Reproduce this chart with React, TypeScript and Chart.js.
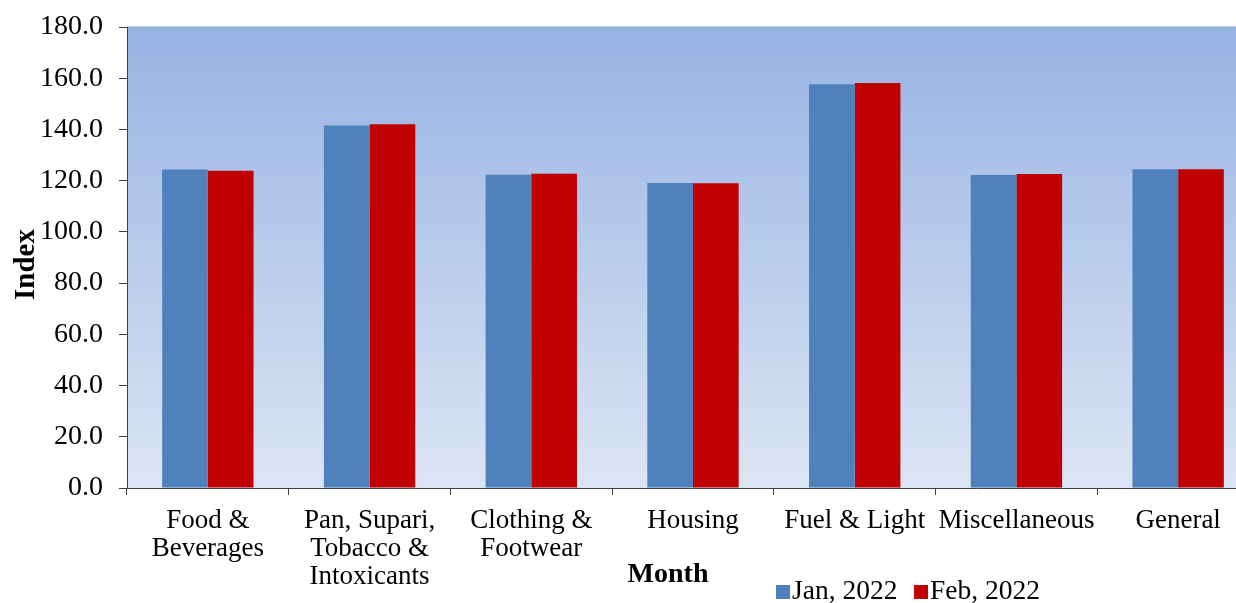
import React, { useEffect, useRef } from "react";
import { Chart, registerables } from "chart.js";

Chart.register(...registerables);

const categories: string[][] = [
  ["Food &", "Beverages"],
  ["Pan, Supari,", "Tobacco &", "Intoxicants"],
  ["Clothing &", "Footwear"],
  ["Housing"],
  ["Fuel & Light"],
  ["Miscellaneous"],
  ["General"],
];
const seriesNames = ["Jan, 2022", "Feb, 2022"];
const janValues = [124.4, 141.5, 122.3, 119.1, 157.6, 122.2, 124.5];
const febValues = [123.9, 142.0, 122.7, 119.0, 158.1, 122.6, 124.5];
const yTitle = "Index";
const xTitle = "Month";

const BLUE = "#4F81BD";
const RED = "#C00000";
const FONT = "'Liberation Serif', 'Times New Roman', serif";

const decorPlugin = {
  id: "decor",
  beforeDraw(chart: any) {
    const { ctx, chartArea } = chart;
    const { left, top, right, bottom } = chartArea;
    ctx.save();
    const g = ctx.createLinearGradient(0, top, 0, bottom);
    g.addColorStop(0, "#97B3E3");
    g.addColorStop(1, "#DCE5F4");
    ctx.fillStyle = g;
    ctx.fillRect(left, top, right - left, bottom - top);
    ctx.strokeStyle = "#C8D0DC";
    ctx.lineWidth = 1;
    ctx.beginPath();
    ctx.moveTo(left, top - 0.5);
    ctx.lineTo(right, top - 0.5);
    ctx.stroke();
    ctx.restore();
  },
  afterDraw(chart: any) {
    const { ctx, chartArea } = chart;
    ctx.save();
    ctx.fillStyle = "#000";
    ctx.font = `bold 29px ${FONT}`;
    ctx.textAlign = "center";
    ctx.textBaseline = "middle";
    ctx.save();
    ctx.translate(chartArea.left - 100, (chartArea.top + chartArea.bottom) / 2 + 7);
    ctx.rotate(-Math.PI / 2);
    ctx.fillText(yTitle, 0, 0);
    ctx.restore();
    ctx.font = `bold 28px ${FONT}`;
    ctx.fillText(xTitle, 668, 575);
    const colors = [BLUE, RED];
    const starts = [776, 914];
    ctx.font = `27.5px ${FONT}`;
    ctx.textAlign = "left";
    ctx.textBaseline = "middle";
    seriesNames.forEach((name, i) => {
      ctx.fillStyle = colors[i];
      ctx.fillRect(starts[i], 585, 14, 14);
      ctx.fillStyle = "#000";
      ctx.fillText(name, starts[i] + 16, 592);
    });
    ctx.restore();
  },
};

export default function App() {
  const ref = useRef<HTMLCanvasElement>(null);
  useEffect(() => {
    if (!ref.current) return;
    const chart = new Chart(ref.current, {
      type: "bar",
      data: {
        labels: categories,
        datasets: [
          { label: seriesNames[0], data: janValues, backgroundColor: BLUE },
          { label: seriesNames[1], data: febValues, backgroundColor: RED },
        ],
      },
      options: {
        animation: false,
        responsive: false,
        maintainAspectRatio: false,
        devicePixelRatio: 1,
        layout: { padding: { left: 0, right: 11, top: 27, bottom: 0 } },
        datasets: { bar: { categoryPercentage: 0.565, barPercentage: 1 } },
        plugins: { legend: { display: false }, tooltip: { enabled: false }, title: { display: false } },
        scales: {
          x: {
            grid: { drawOnChartArea: false, tickLength: 7, color: "#404040", offset: true },
            border: { color: "#404040", width: 1 },
            ticks: {
              color: "#000",
              font: { family: FONT, size: 27, lineHeight: 1.04 },
              padding: 12,
              maxRotation: 0,
              autoSkip: false,
            },
            afterFit(scale: any) {
              scale.height = 603 - 488;
            },
          },
          y: {
            min: 0,
            max: 180,
            grid: { drawOnChartArea: false, tickLength: 8, color: "#404040" },
            border: { color: "#404040", width: 1 },
            ticks: {
              stepSize: 20,
              color: "#000",
              font: { family: FONT, size: 28 },
              padding: 16,
              callback: (v: any) => Number(v).toFixed(1),
            },
            afterFit(scale: any) {
              scale.width = 127;
              scale.paddingTop = 0;
              scale.paddingBottom = 0;
            },
          },
        },
      },
      plugins: [decorPlugin],
    });
    return () => chart.destroy();
  }, []);
  return (
    <div style={{ position: "fixed", left: 0, top: 0, width: 1236, height: 603, overflow: "hidden", background: "#fff" }}>
      <canvas ref={ref} width={1270} height={603} style={{ display: "block", width: 1270, height: 603 }} />
    </div>
  );
}
